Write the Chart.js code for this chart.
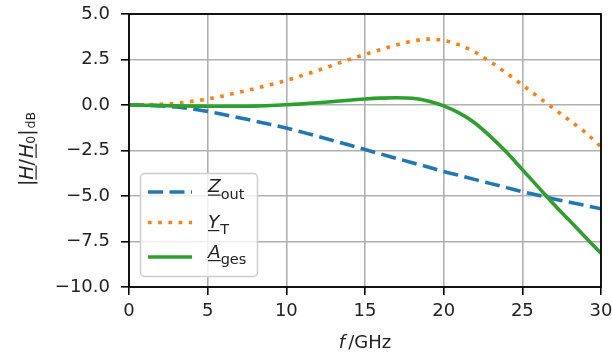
<!DOCTYPE html>
<html><head><meta charset="utf-8">
<script src="https://cdn.jsdelivr.net/npm/chart.js@4"></script>
<style>html,body{margin:0;padding:0;background:#fff}#wrap{width:612px;height:356px}</style>
</head><body><div id="wrap"><canvas id="c" width="612" height="356"></canvas></div>
<script>
const freqGHz = [0,1,2,3,4,5,6,7,8,9,10,11,12,13,14,15,16,17,18,19,20,21,22,23,24,25,26,27,28,29,30];
const zoutDB = [0,-0.01,-0.05,-0.11,-0.22,-0.35,-0.52,-0.7,-0.88,-1.07,-1.27,-1.49,-1.72,-1.96,-2.2,-2.45,-2.69,-2.93,-3.17,-3.41,-3.65,-3.87,-4.1,-4.32,-4.54,-4.76,-4.96,-5.16,-5.34,-5.52,-5.7];
const ytDB = [0,0.01,0.04,0.1,0.2,0.33,0.5,0.7,0.9,1.12,1.35,1.62,1.9,2.2,2.5,2.78,3.05,3.3,3.5,3.62,3.55,3.3,2.9,2.35,1.75,1.1,0.45,-0.2,-0.85,-1.5,-2.3];
const agesDB = [0,-0.01,-0.03,-0.05,-0.06,-0.07,-0.07,-0.07,-0.06,-0.03,0.01,0.06,0.12,0.19,0.26,0.33,0.38,0.4,0.37,0.22,-0.05,-0.45,-1.0,-1.75,-2.6,-3.55,-4.5,-5.45,-6.35,-7.25,-8.15];
const xTicks = [0,5,10,15,20,25,30];
const yTicks = [-10,-7.5,-5,-2.5,0,2.5,5];

const FONT = '"DejaVu Sans", sans-serif';
const TXT = '#222';

function pts(ys){ return freqGHz.map((f,i)=>({x:f,y:ys[i]})); }

function segFont(s, size, subSize){
  const sz = s.sub ? subSize : size;
  return (s.it ? 'italic ' : '') + sz.toFixed(1) + 'px ' + FONT;
}
function drawRich(ctx, segs, x, y, size, subSize, subDy, align){
  let w = 0;
  const ws = segs.map(s=>{ ctx.font = segFont(s,size,subSize); const m = ctx.measureText(s.t).width + (s.gap||0); w += m; return m; });
  let cx = align==='center' ? x - w/2 : x;
  ctx.textBaseline = 'alphabetic';
  ctx.textAlign = 'left';
  segs.forEach((s,i)=>{
    ctx.font = segFont(s,size,subSize);
    const dy = s.sub ? subDy : 0;
    ctx.fillText(s.t, cx, y + dy);
    if (s.ul) ctx.fillRect(cx, y + 2.5, ws[i]-(s.gap||0), 1.2);
    cx += ws[i];
  });
}

const decor = {
  id:'decor',
  afterDatasetsDraw(chart){
    const ctx = chart.ctx, a = chart.chartArea;
    ctx.save();
    ctx.strokeStyle = '#000'; ctx.lineWidth = 1.8;
    ctx.strokeRect(a.left, a.top, a.right-a.left, a.bottom-a.top);
    // legend
    const lx = 140.5, ly = 173.5, lw = 117, lh = 103;
    ctx.beginPath(); ctx.roundRect(lx, ly, lw, lh, 4);
    ctx.fillStyle = 'rgba(255,255,255,0.8)'; ctx.fill();
    ctx.strokeStyle = '#cccccc'; ctx.lineWidth = 1.5; ctx.stroke();
    const rows = [
      {y:192, ty:192, color:'#1f77b4', dash:[15,6.5], segs:[{t:'Z',it:true,ul:true},{t:'out',sub:true}]},
      {y:222.5, ty:227.5, color:'#ff7f0e', dash:[3.6,6.6], segs:[{t:'Y',it:true,ul:true,gap:1},{t:'T',sub:true}]},
      {y:257, ty:257.5, color:'#2ca02c', dash:[], segs:[{t:'A',it:true,ul:true},{t:'ges',sub:true}]}
    ];
    rows.forEach(r=>{
      ctx.beginPath(); ctx.setLineDash(r.dash); ctx.lineCap='butt';
      ctx.strokeStyle = r.color; ctx.lineWidth = 3.6;
      ctx.moveTo(148, r.y); ctx.lineTo(192, r.y); ctx.stroke();
      ctx.setLineDash([]);
      ctx.fillStyle = TXT;
      drawRich(ctx, r.segs, 208, r.ty, 18.5, 14.5, 6.5, 'left');
    });
    // x title
    ctx.fillStyle = TXT;
    drawRich(ctx, [{t:'f',it:true,gap:3},{t:'/GHz'}], (a.left+a.right)/2, 348, 18, 13, 0, 'center');
    // y title
    ctx.save();
    ctx.translate(33, 149);
    ctx.rotate(-Math.PI/2);
    drawRich(ctx, [{t:'|'},{t:'H',it:true,ul:true},{t:'/',gap:1},{t:'H',it:true,ul:true},{t:'0',sub:true},{t:'|',gap:1},{t:'dB',sub:true}], 0, 0, 19, 12.5, 1.5, 'center');
    ctx.restore();
    ctx.restore();
  }
};

new Chart(document.getElementById('c'), {
  type:'line',
  data:{datasets:[
    {label:'Z_out', data:pts(zoutDB), borderColor:'#1f77b4', borderWidth:3.6, borderDash:[15,6.5], pointRadius:0, cubicInterpolationMode:'monotone', order:3, fill:false},
    {label:'Y_T', data:pts(ytDB), borderColor:'#ff7f0e', borderWidth:3.6, borderDash:[3.6,6.6], pointRadius:0, cubicInterpolationMode:'monotone', order:2, fill:false},
    {label:'A_ges', data:pts(agesDB), borderColor:'#2ca02c', borderWidth:3.6, pointRadius:0, cubicInterpolationMode:'monotone', order:1, fill:false}
  ]},
  options:{
    responsive:false, animation:false, devicePixelRatio:1,
    layout:{padding:{left:0,right:11,top:14,bottom:0}},
    plugins:{legend:{display:false}, tooltip:{enabled:false}},
    scales:{
      x:{type:'linear', min:0, max:30,
        afterBuildTicks:s=>{ s.ticks = xTicks.map(v=>({value:v})); },
        afterFit:s=>{ s.height = 69; s.paddingLeft = 0; s.paddingRight = 0; },
        grid:{color:'#b0b0b0', lineWidth:1.6, tickColor:'#000', tickLength:8, tickWidth:1.6},
        border:{display:false},
        ticks:{color:TXT, font:{family:FONT,size:18}, padding:6, maxRotation:0,
          callback:v=>String(v)}
      },
      y:{type:'linear', min:-10, max:5,
        afterBuildTicks:s=>{ s.ticks = yTicks.map(v=>({value:v})); },
        afterFit:s=>{ s.width = 129; s.paddingTop = 0; s.paddingBottom = 0; },
        grid:{color:'#b0b0b0', lineWidth:1.6, tickColor:'#000', tickLength:8, tickWidth:1.6},
        border:{display:false},
        ticks:{color:TXT, font:{family:FONT,size:18}, padding:11,
          callback:v=>(v<0?'\u2212':'')+Math.abs(v).toFixed(1)}
      }
    }
  },
  plugins:[decor]
});
</script>
</body></html>
